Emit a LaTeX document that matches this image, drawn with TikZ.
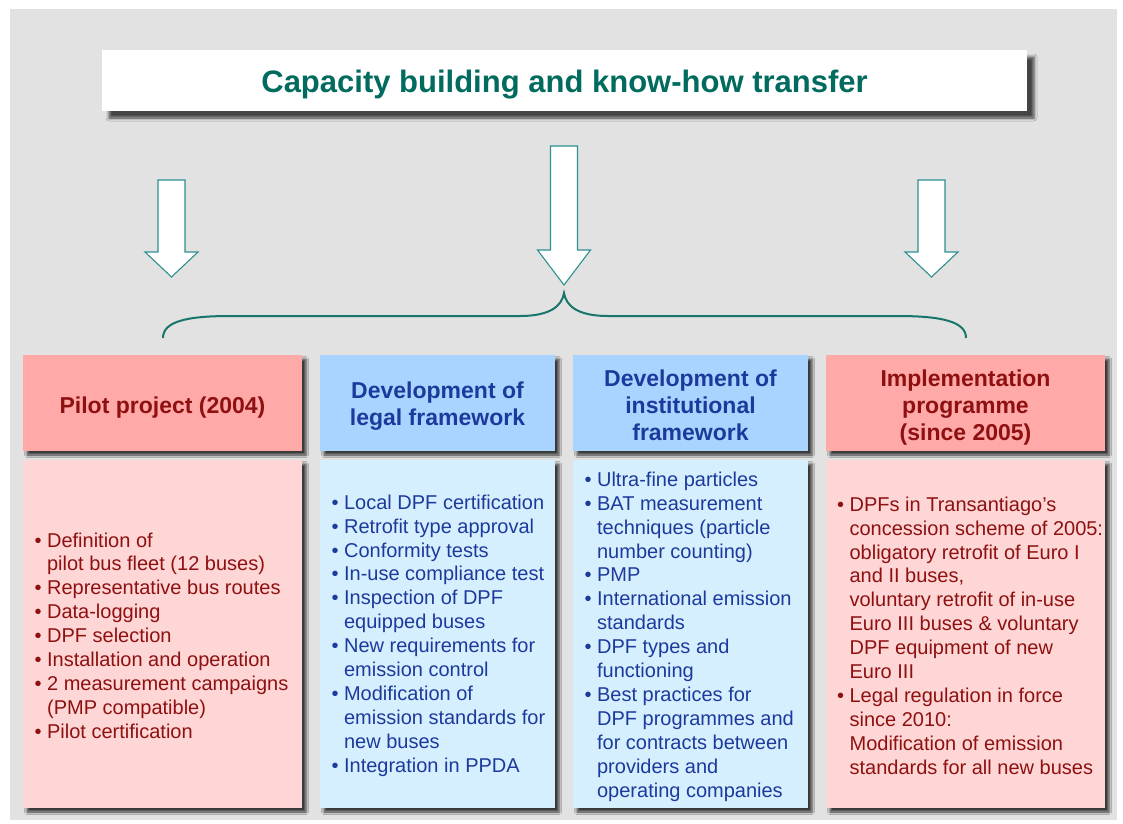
\documentclass[tikz,border=0pt]{standalone}
\usepackage{fontspec}
\setmainfont{Liberation Sans}
\usetikzlibrary{shadows.blur}
\definecolor{bg}{HTML}{E2E2E2}
\definecolor{teal1}{HTML}{006B5E}
\definecolor{arrline}{HTML}{2E9090}
\definecolor{bracec}{HTML}{17756C}
\definecolor{hpink}{HTML}{FFA9A8}
\definecolor{hblue}{HTML}{A8D4FF}
\definecolor{cpink}{HTML}{FFD6D6}
\definecolor{cblue}{HTML}{D6EFFF}
\definecolor{dred}{HTML}{8E1010}
\definecolor{dblue}{HTML}{1C3A9C}
\newcommand\bul{\makebox[12.6pt][l]{•}}
\newcommand\ind{\makebox[12.6pt]{}}
\begin{document}
\begin{tikzpicture}[x=1pt,y=-1pt,
  shad/.style={blur shadow={shadow xshift=4pt, shadow yshift=-4pt, shadow blur radius=2.5pt, shadow opacity=75}},
  titlebox/.style={fill=white, inner sep=0pt, blur shadow={shadow xshift=7pt, shadow yshift=-7pt, shadow blur radius=3pt, shadow opacity=70}},
  titletext/.style={text=teal1, font=\fontsize{31}{36}\selectfont\bfseries},
  hdrbox/.style={shad, inner sep=0pt, minimum height=96pt},
  hdrtext/.style={align=center, inner sep=0pt, font=\fontsize{23}{27}\selectfont\bfseries},
  bodybox/.style={shad, inner sep=0pt, minimum height=348pt},
  bodytext/.style={anchor=west, inner sep=0pt, align=left, font=\fontsize{20}{23.9}\selectfont},
  blockarrow/.style={draw=arrline, fill=white, line width=1.1pt, line join=miter},
  bracestyle/.style={draw=bracec, line width=2pt}
]
\useasboundingbox (0,0) rectangle (1123,823);
\fill[white] (0,0) rectangle (1123,823);
\fill[bg] (10,9) rectangle (1117,820);

% title
\node[titlebox, minimum width=925pt, minimum height=61pt] (title) at (564.5,80.5) {};
\node[titletext] (titletxt) at (564.5,85) {Capacity building and know-how transfer};

% block arrows
\foreach \cx/\tp/\bs/\tip in {171.5/180/252/277, 564/146/250/285, 931.5/180/252/277}{
  \draw[blockarrow] ({\cx-13.5},\tp) -- ({\cx-13.5},\bs) -- ({\cx-26.5},\bs) -- (\cx,\tip)
     -- ({\cx+26.5},\bs) -- ({\cx+13.5},\bs) -- ({\cx+13.5},\tp) -- cycle;
}

% brace
\coordinate (bl) at (163,338);
\coordinate (br) at (966,338);
\coordinate (bc) at (564,293);
\draw[bracestyle] (bl) .. controls (163,322) and (185,316) .. (230,316) -- (520,316)
  .. controls (550,316) and (562,306) .. (bc)
  .. controls (566,306) and (578,316) .. (608,316) -- (898,316)
  .. controls (943,316) and (966,322) .. (br);

% headers
\node[hdrbox, fill=hpink, minimum width=279pt] (h1) at (162.5,403) {};
\node[hdrbox, fill=hblue, minimum width=235pt] (h2) at (437.5,403) {};
\node[hdrbox, fill=hblue, minimum width=235pt] (h3) at (690.5,403) {};
\node[hdrbox, fill=hpink, minimum width=279pt] (h4) at (965.5,403) {};
\node[hdrtext, text=dred]  (h1t) at ([yshift=-4.5pt]h1.center) {Pilot project (2004)};
\node[hdrtext, text=dblue] (h2t) at ([yshift=-3.5pt]h2.center) {Development of\\legal framework};
\node[hdrtext, text=dblue] (h3t) at ([yshift=-2.5pt]h3.center) {Development of\\institutional\\framework};
\node[hdrtext, text=dred]  (h4t) at ([yshift=-4.5pt]h4.center) {Implementation\\programme\\(since 2005)};

% bodies
\node[bodybox, fill=cpink, minimum width=279pt] (b1) at (162.5,634) {};
\node[bodybox, fill=cblue, minimum width=235pt] (b2) at (437.5,634) {};
\node[bodybox, fill=cblue, minimum width=235pt] (b3) at (690.5,634) {};
\node[bodybox, fill=cpink, minimum width=279pt] (b4) at (965.5,634) {};

\node[bodytext, text=dred] (b1t) at ([xshift=11.5pt,yshift=-1.5pt]b1.west) {%
\bul Definition of\\
\ind pilot bus fleet (12 buses)\\
\bul Representative bus routes\\
\bul Data-logging\\
\bul DPF selection\\
\bul Installation and operation\\
\bul 2 measurement campaigns\\
\ind (PMP compatible)\\
\bul Pilot certification};

\node[bodytext, text=dblue] (b2t) at ([xshift=11.5pt,yshift=-1.5pt]b2.west) {%
\bul Local DPF certification\\
\bul Retrofit type approval\\
\bul Conformity tests\\
\bul In-use compliance test\\
\bul Inspection of DPF\\
\ind equipped buses\\
\bul New requirements for\\
\ind emission control\\
\bul Modification of\\
\ind emission standards for\\
\ind new buses\\
\bul Integration in PPDA};

\node[bodytext, text=dblue] (b3t) at ([xshift=11.5pt,yshift=-2.5pt]b3.west) {%
\bul Ultra-fine particles\\
\bul BAT measurement\\
\ind techniques (particle\\
\ind number counting)\\
\bul PMP\\
\bul International emission\\
\ind standards\\
\bul DPF types and\\
\ind functioning\\
\bul Best practices for\\
\ind DPF programmes and\\
\ind for contracts between\\
\ind providers and\\
\ind operating companies};

\node[bodytext, text=dred] (b4t) at ([xshift=11pt,yshift=-1.5pt]b4.west) {%
\bul DPFs in Transantiago’s\\
\ind concession scheme of 2005:\\
\ind obligatory retrofit of Euro I\\
\ind and II buses,\\
\ind voluntary retrofit of in-use\\
\ind Euro III buses \& voluntary\\
\ind DPF equipment of new\\
\ind Euro III\\
\bul Legal regulation in force\\
\ind since 2010:\\
\ind Modification of emission\\
\ind standards for all new buses};
\end{tikzpicture}
\end{document}
